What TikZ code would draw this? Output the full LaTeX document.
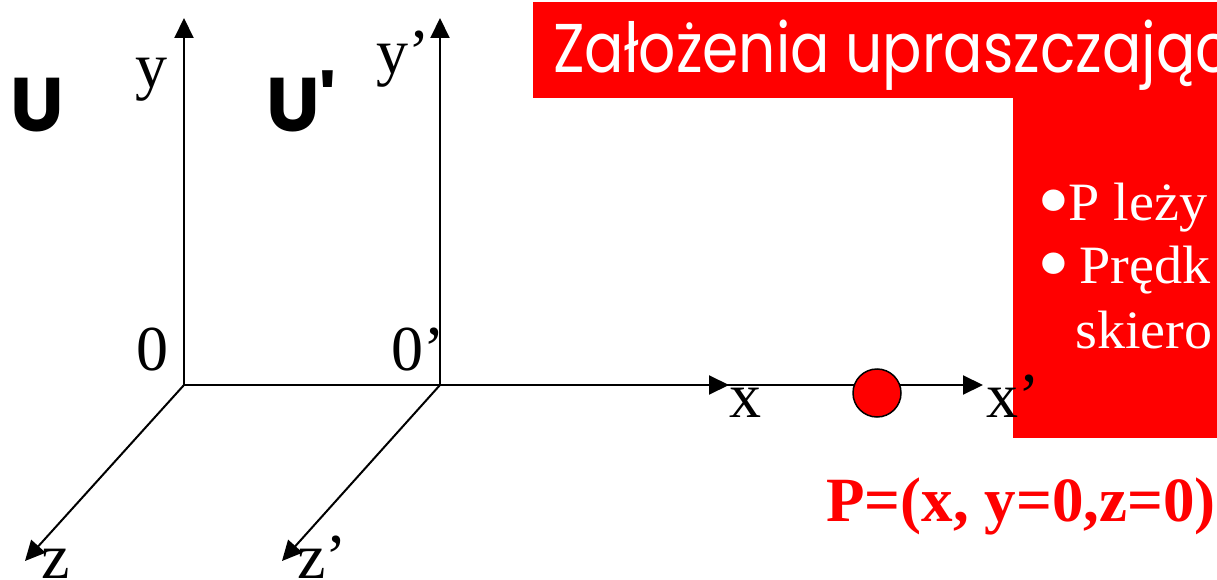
\documentclass[tikz,border=0pt]{standalone}
\usepackage{fontspec}
\setmainfont{Liberation Serif}
\newfontfamily\titlefont[FakeStretch=0.845]{Poppins}
\newfontfamily\ufont{Poppins}
\newfontfamily\bodyfont[FakeStretch=1.04]{Liberation Serif}
\usetikzlibrary{arrows.meta}
\newcommand{\bigbul}{\smash{\raisebox{-10pt}{\fontsize{90}{90}\selectfont •}}}
\begin{document}
\begin{tikzpicture}[x=1pt,y=-1pt,
  axis/.style={line width=2pt,-{Triangle[length=20pt,width=19pt]}},
  lbl/.style={inner sep=0pt,anchor=base west,font=\fontsize{64}{70}\selectfont},
  ulbl/.style={inner sep=0pt,anchor=base west,font=\ufont\bfseries\fontsize{76}{80}\selectfont},
  bul/.style={inner sep=0pt,anchor=base west,text=white,font=\bodyfont\fontsize{54}{60}\selectfont},
  redbox/.style={fill=red,draw=none}]
\useasboundingbox (0,0) rectangle (1217,580);
\clip (0,0) rectangle (1217,580);
% red boxes
\fill[redbox] (533,2) rectangle (1217,98);
\fill[redbox] (1013,98) rectangle (1217,438);
\node[inner sep=0pt,anchor=base west,text=white,font=\titlefont\fontsize{69}{74}\selectfont] (title) at (553,73) {Założenia upraszczając};
\node[bul] (b1) at (1037,220) {\bigbul\hspace{-1.5pt}P leży};
\node[bul] (b2) at (1037,283) {\bigbul\hspace{9.5pt}Prędk};
\node[bul] (b3) at (1075,348) {skiero};
% coordinates
\coordinate (O) at (184,385);
\coordinate (O2) at (440,385);
\coordinate (ytip) at (184,18);
\coordinate (y2tip) at (440,18);
\coordinate (ztip) at (25,561);
\coordinate (z2tip) at (282,561);
\coordinate (xtip) at (729,385);
\coordinate (x2tip) at (983,385);
% axes
\draw[axis] (O) -- (ytip);
\draw[axis] (O2) -- (y2tip);
\draw[axis] (O) -- (ztip);
\draw[axis] (O2) -- (z2tip);
\draw[axis] (O2) -- (x2tip);
\draw[axis] (O) -- (xtip);
% point
\node[circle,fill=red,draw=black,line width=1.5pt,minimum size=48pt,inner sep=0pt] (P) at (877,393) {};
% labels
\node[lbl] (ly) at (135,88) {y};
\node[lbl] (ly2) at (376,74) {y’};
\node[lbl] (l0) at (136,370) {0};
\node[lbl] (l02) at (391,370) {0’};
\node[lbl] (lx) at (729,417) {x};
\node[lbl] (lx2) at (986,417) {x’};
\node[lbl] (lz) at (41,578) {z};
\node[lbl] (lz2) at (297,578) {z’};
\node[ulbl] (U) at (10,132) {U};
\node[ulbl] (U2) at (266,132) {U'};
\node[inner sep=0pt,anchor=base west,text=red,font=\bfseries\fontsize{63}{68}\selectfont] (Pdef) at (826,521) {P=(x, y=0,z=0)};
\end{tikzpicture}
\end{document}
